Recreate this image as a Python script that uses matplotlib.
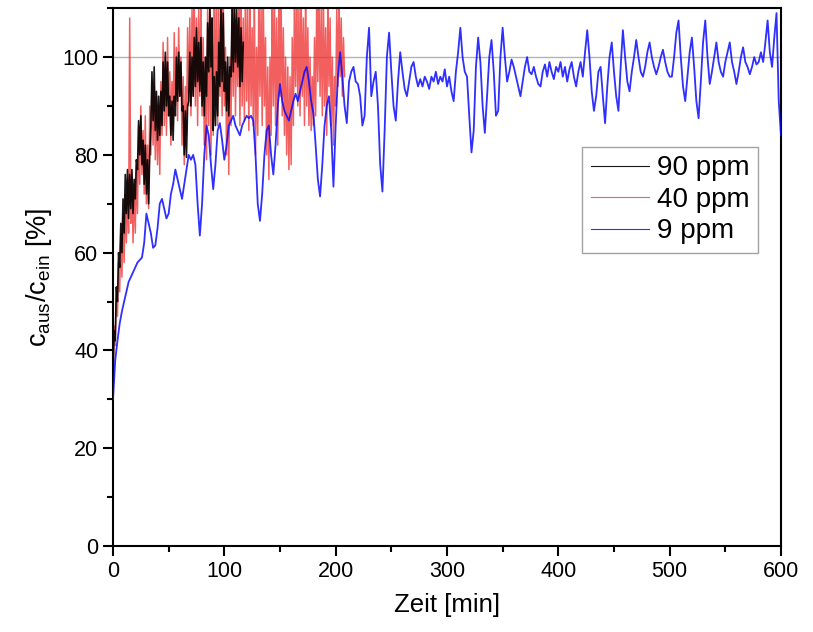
import numpy as np
import matplotlib
matplotlib.use("Agg")
import matplotlib.pyplot as plt
from matplotlib.ticker import MultipleLocator

plt.rcParams['font.family'] = ['Liberation Sans', 'DejaVu Sans']
plt.rcParams['mathtext.fontset'] = 'custom'
plt.rcParams['mathtext.rm'] = 'Liberation Sans'
plt.rcParams['mathtext.it'] = 'Liberation Sans'

# 90 ppm, ein Wert pro Minute (0..117 min)
y90 = [35, 44, 42, 53, 50, 60, 57, 66, 60, 71, 64, 76, 68, 77, 67, 76, 69, 77, 68, 75,
       71, 79, 77, 87, 80, 88, 78, 83, 74, 82, 72, 79, 70, 80, 86, 97, 87, 98, 85, 93,
       83, 92, 84, 93, 86, 99, 89, 101, 90, 99, 88, 92, 84, 91, 83, 92, 88, 100, 91, 101,
       92, 99, 89, 90, 80, 89, 79.5, 90, 91, 101, 90, 100, 92, 104, 94, 106, 95, 103, 93, 104,
       90, 99, 88, 100, 92, 107, 97, 110, 98, 108, 85, 96, 86, 97, 88, 103, 94, 110, 95, 109,
       93, 99, 89, 100, 88, 98, 96, 110, 97, 110, 99, 110, 98, 108, 94, 106, 95, 103]

# 40 ppm, ein Wert pro Minute (0..208 min)
y40 = [33, 45, 41, 52, 47, 58, 52, 64, 55, 68, 58, 72, 62, 75, 64, 108, 66, 76, 62, 74,
       64, 78, 68, 86, 74, 90, 76, 85, 72, 88, 70, 82, 69, 90, 80, 95, 82, 94, 79, 92,
       78, 90, 76, 95, 84, 103, 86, 100, 84, 104, 88, 97, 82, 95, 86, 105, 90, 102, 87, 106,
       92, 100, 82, 96, 78, 94, 84, 106, 90, 108, 88, 110, 92, 112, 90, 108, 86, 110, 92, 112,
       88, 104, 82, 100, 79, 110, 86, 112, 80, 108, 84, 112, 90, 112, 86, 110, 92, 112, 88, 112,
       90, 102, 80, 98, 76, 100, 86, 112, 92, 112, 88, 108, 94, 112, 86, 112, 90, 108, 87, 112,
       91, 110, 85, 112, 90, 106, 86, 112, 80, 102, 84, 112, 92, 110, 86, 112, 90, 104, 80, 98,
       75, 100, 84, 112, 90, 112, 86, 108, 82, 112, 92, 112, 88, 106, 84, 100, 80, 98, 77, 96,
       78, 104, 86, 112, 94, 112, 90, 110, 88, 112, 92, 108, 86, 112, 90, 106, 86, 100, 85, 96,
       86, 104, 88, 112, 95, 112, 92, 110, 88, 112, 90, 106, 84, 112, 94, 108, 86, 100, 82, 96,
       90, 110, 94, 112, 96, 108, 92, 104, 96]

# 9 ppm, alle 2 min (0..600 min)
y9 = [30, 38, 42, 45.5, 48, 50, 52, 54, 55, 56,
      57, 58, 58.5, 59, 62, 68, 66, 64, 61, 61.5,
      65, 70, 71, 69, 67, 68, 72, 74, 77, 75,
      73, 71, 74, 77, 80, 79, 80, 78, 70, 63.5,
      70, 80, 86, 84, 78, 73, 78, 85, 86.5, 83,
      79, 82, 86, 87, 88, 86, 85, 84, 86, 87,
      88, 87.5, 88, 87, 80, 70, 66.5, 72, 80, 85,
      86, 80, 76, 82, 90, 94.5, 91, 89, 88, 87,
      89, 91, 92.5, 91, 93, 95, 97, 98, 95, 91,
      88.5, 82, 75, 71.5, 78, 86, 90, 92, 85, 73.5,
      86, 96, 101, 96, 90, 86.5, 95, 97, 98, 95,
      94.5, 92, 86, 88, 100, 106, 92, 95, 97, 90,
      78, 72.5, 85, 100, 105, 97, 90, 87, 95, 101,
      97, 93.5, 92, 95, 98, 99, 96, 94, 95.5, 94,
      96, 95, 93.5, 96, 95, 97, 94.5, 96, 95, 97.5,
      94, 96, 93, 91, 97, 101, 106, 100, 97, 96,
      88, 80.5, 85, 98, 104, 99, 90, 84.5, 92, 100,
      103.5, 97, 88, 89, 100, 106, 100, 95, 97, 99.5,
      98, 96, 94, 92, 95, 98, 100, 97, 96.5, 98,
      96, 94.5, 94, 97, 98.5, 96, 99, 97, 95.5, 98,
      97, 99, 96, 98, 95, 97.5, 99, 96, 94, 97,
      99, 96, 101, 105.5, 100, 93, 89, 92, 97, 98,
      92, 86.5, 94, 100, 103, 97, 92, 89, 98, 105.5,
      100, 95, 93, 97, 100, 103.5, 100, 97, 96, 98,
      101, 103, 100, 98, 96.5, 98, 100, 101.5, 99, 97,
      96, 96, 100, 105, 107.5, 100, 94, 91, 96, 101,
      104, 98, 91, 87.5, 95, 103, 107.5, 100, 94.5, 97,
      100, 103, 99, 97, 96, 99, 101, 103, 99, 97,
      94.5, 97, 100, 102, 99, 98, 96.5, 98, 100, 98.5,
      99, 101, 99, 103, 107.5, 101, 98, 104, 109, 91,
      84]

t90 = np.arange(len(y90)) * 1.0
t40 = np.arange(len(y40)) * 1.0
t9 = np.arange(len(y9)) * 2.0

fig = plt.figure(figsize=(8.13, 6.32), dpi=100)
ax = fig.add_axes([0.139, 0.136, 0.8216, 0.851])

ax.axhline(100, color='#b4b4b4', lw=1.0, zorder=1)
l90, = ax.plot(t90, y90, color='black', lw=1.2, alpha=0.9, label='90 ppm', zorder=3)
l40, = ax.plot(t40, y40, color='#ee2a2a', lw=1.1, alpha=0.75, label='40 ppm', zorder=2)
l9, = ax.plot(t9, y9, color='#0a0aff', lw=1.3, alpha=0.85, label='9 ppm', zorder=4)

ax.set_xlim(0, 600)
ax.set_ylim(0, 110)
ax.xaxis.set_major_locator(MultipleLocator(100))
ax.xaxis.set_minor_locator(MultipleLocator(50))
ax.yaxis.set_major_locator(MultipleLocator(20))
ax.yaxis.set_minor_locator(MultipleLocator(10))
ax.tick_params(which='major', direction='out', length=7, width=1.5, labelsize=15.5)
ax.tick_params(which='minor', direction='out', length=4, width=1.5)
for s in ax.spines.values():
    s.set_linewidth(1.5)

ax.set_xlabel('Zeit [min]', fontsize=18.5, labelpad=8)
ax.set_ylabel(r'c$_{\mathrm{aus}}$/c$_{\mathrm{ein}}$ [%]', fontsize=19.5, labelpad=6)

leg = ax.legend(handles=[l90, l40, l9], loc='upper right', bbox_to_anchor=(0.966, 0.742),
                fontsize=20, frameon=True, fancybox=False, edgecolor='#8c8c8c',
                handlelength=2.1, handletextpad=0.3, labelspacing=0.2,
                borderpad=0.3, borderaxespad=0)
leg.get_frame().set_linewidth(1.0)
for h in leg.get_lines():
    h.set_linewidth(0.8)

fig.savefig('out.png', dpi=100)
